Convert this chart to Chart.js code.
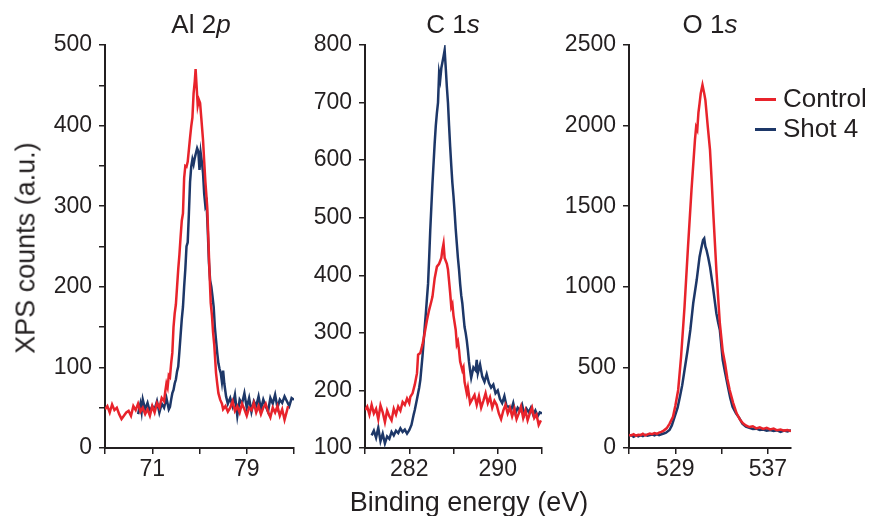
<!DOCTYPE html>
<html>
<head>
<meta charset="utf-8">
<script src="https://cdn.jsdelivr.net/npm/chart.js@4"></script>
<style>
  html, body { margin: 0; padding: 0; background: #ffffff; }
  #wrap { position: relative; width: 871px; height: 516px; overflow: hidden; background: #fff;
          font-family: "Liberation Sans", Arial, Helvetica, sans-serif; color: #231f20; }
  canvas { position: absolute; top: 0; }
  .txt { position: absolute; font-size: 26px; line-height: 26px; white-space: nowrap; }
  .axt { font-size: 27px; line-height: 27px; }
  .ctr { transform: translateX(-50%); }
  .leg-line { position: absolute; height: 3px; width: 21px; }
</style>
</head>
<body>
<div id="wrap">
  <canvas id="c1" width="293" height="516" style="left:5px"></canvas>
  <canvas id="c2" width="281" height="516" style="left:265px"></canvas>
  <canvas id="c3" width="266" height="516" style="left:529px"></canvas>

  <div class="txt ctr" style="left:201px; top:11px">Al 2<i>p</i></div>
  <div class="txt ctr" style="left:453px; top:11px">C 1<i>s</i></div>
  <div class="txt ctr" style="left:710px; top:11px">O 1<i>s</i></div>

  <div class="txt axt" style="left:26px; top:248px; transform: translate(-50%,-50%) rotate(-90deg);">XPS counts (a.u.)</div>
  <div class="txt axt ctr" style="left:469px; top:489px">Binding energy (eV)</div>

  <div class="leg-line" style="left:755px; top:98px; background:#e8232b"></div>
  <div class="txt" id="legC" style="left:783px; top:85px">Control</div>
  <div class="leg-line" style="left:755px; top:128px; background:#1d3768"></div>
  <div class="txt" id="legS" style="left:783px; top:115px">Shot 4</div>
</div>
<script>
// ---------------- data ----------------
const seriesNames = ["Control", "Shot 4"];
const panelTitles = ["Al 2p", "C 1s", "O 1s"];

// Al 2p
const alControlE = [67.0,67.2,67.4,67.6,67.8,68.0,68.2,68.4,68.6,68.8,69.0,69.2,69.4,69.6,69.8,70.0,70.2,70.4,70.6,70.8,71.0,71.2,71.4,71.6,71.8,72.0,72.1,72.2,72.3,72.4,72.5,72.6,72.7,72.8,72.9,73.0,73.1,73.2,73.3,73.4,73.5,73.6,73.7,73.8,73.9,74.0,74.1,74.2,74.3,74.4,74.5,74.6,74.67,74.75,74.85,74.95,75.05,75.15,75.3,75.4,75.5,75.65,75.75,75.85,75.95,76.05,76.15,76.25,76.4,76.5,76.6,76.75,76.9,77.0,77.2,77.4,77.6,77.8,78.0,78.2,78.4,78.6,78.8,79.0,79.2,79.4,79.6,79.8,80.0,80.2,80.4,80.6,80.8,81.0,81.2,81.4,81.6,81.8,82.0,82.2,82.4,82.5];
const alControl  = [48,52,44,54,47,50,42,36,40,44,46,40,52,47,55,45,50,42,48,40,52,44,56,50,62,58,70,80,75,90,88,105,118,150,167,178,200,222,240,262,282,291,335,350,349,355,370,385,399,410,440,455,470,450,425,432,428,410,382,355,330,300,260,217,180,165,143,128,93,80,68,60,55,48,52,45,50,58,46,52,44,55,48,40,50,47,56,44,52,42,50,55,45,38,50,44,52,40,48,35,46,52];
const alShotE = [69.8,70.0,70.1,70.2,70.4,70.6,70.8,71.0,71.2,71.4,71.6,71.8,72.0,72.2,72.4,72.5,72.6,72.7,72.8,72.9,73.0,73.1,73.2,73.3,73.4,73.5,73.6,73.7,73.8,73.9,74.0,74.1,74.2,74.3,74.4,74.5,74.6,74.7,74.8,74.9,75.0,75.1,75.2,75.3,75.4,75.5,75.6,75.7,75.8,75.9,76.0,76.1,76.2,76.3,76.4,76.5,76.6,76.7,76.8,76.9,77.0,77.1,77.25,77.4,77.6,77.8,78.0,78.2,78.4,78.6,78.8,79.0,79.2,79.4,79.6,79.8,80.0,80.2,80.4,80.6,80.8,81.0,81.2,81.4,81.6,81.8,82.0,82.2,82.4,82.6,82.8,83.0];
const alShot  = [42,55,45,60,48,56,45,52,48,58,44,55,50,62,48,51,60,68,72,80,85,95,101,120,140,160,175,200,222,250,255,290,330,349,358,352,360,366,372,368,345,366,355,341,315,300,304,270,230,208,200,188,175,150,134,118,105,98,93,82,96,80,64,55,62,52,66,40,60,55,68,50,62,45,58,52,64,48,60,52,45,62,55,66,50,60,56,64,58,52,62,60];
const alXTicks = [67,71,75,79,83];
const alXLabels = [71,79];
const alYTicks = [0,50,100,150,200,250,300,350,400,450,500];
const alYLabels = [0,100,200,300,400,500];

// C 1s
const cControlE = [278.0,278.2,278.4,278.6,278.8,279.0,279.2,279.4,279.6,279.8,280.0,280.2,280.4,280.6,280.8,281.0,281.2,281.4,281.6,281.8,282.0,282.1,282.3,282.5,282.7,282.8,283.0,283.2,283.4,283.6,283.8,284.0,284.1,284.3,284.5,284.7,284.9,285.0,285.1,285.2,285.4,285.5,285.6,285.7,285.8,285.9,286.0,286.2,286.3,286.4,286.5,286.6,286.8,286.9,287.0,287.2,287.3,287.5,287.7,287.9,288.1,288.3,288.5,288.7,288.9,289.1,289.3,289.5,289.7,289.9,290.1,290.3,290.5,290.7,290.9,291.1,291.3,291.5,291.7,291.9,292.1,292.3,292.5,292.7,292.9,293.1,293.3,293.5,293.7,293.9];
const cControl  = [166,172,158,175,160,168,150,174,162,145,165,155,148,168,158,172,165,180,175,186,178,189,195,210,230,262,265,280,300,322,340,355,363,395,415,420,430,445,455,430,420,410,390,369,345,350,330,305,280,285,270,250,235,240,215,195,205,178,185,192,175,190,170,182,195,178,188,170,182,175,160,150,165,175,160,170,155,168,150,160,172,152,165,148,160,170,152,158,140,148];
const cShotE = [278.6,278.8,279.0,279.2,279.4,279.6,279.8,280.0,280.2,280.4,280.6,280.8,281.0,281.2,281.4,281.6,281.8,282.0,282.2,282.4,282.5,282.7,282.9,283.0,283.2,283.4,283.5,283.6,283.7,283.8,283.9,284.0,284.1,284.2,284.3,284.4,284.5,284.6,284.7,284.8,284.9,285.0,285.1,285.2,285.3,285.4,285.5,285.6,285.7,285.8,285.9,286.0,286.1,286.2,286.3,286.4,286.5,286.6,286.7,286.8,286.9,287.0,287.1,287.2,287.3,287.4,287.5,287.6,287.8,288.0,288.1,288.2,288.4,288.6,288.8,289.0,289.2,289.4,289.6,289.8,290.0,290.2,290.4,290.6,290.8,291.0,291.2,291.4,291.6,291.8,292.0,292.2,292.4,292.6,292.8,293.0,293.2,293.4,293.6,293.8,294.0];
const cShot  = [122,130,118,135,112,125,108,120,116,128,122,130,126,134,128,132,125,131,140,158,166,185,205,218,260,310,334,360,385,430,479,520,560,595,630,660,682,700,751,740,760,770,780,791,760,727,700,660,623,590,560,537,510,480,455,430,410,385,365,351,330,310,300,287,270,250,235,222,240,235,253,230,245,224,215,228,213,205,210,195,200,185,178,190,172,172,165,178,160,170,165,175,158,168,162,170,158,165,155,162,160];
const cXTicks = [278,282,286,290,294];
const cXLabels = [282,290];
const cYTicks = [100,200,300,400,500,600,700,800];
const cYLabels = [100,200,300,400,500,600,700,800];

// O 1s
const oControlE = [525.0,525.2,525.4,525.6,525.8,526.0,526.2,526.4,526.6,526.8,527.0,527.2,527.4,527.6,527.8,528.0,528.25,528.5,528.8,529.0,529.25,529.5,529.8,530.1,530.4,530.7,530.8,530.9,531.0,531.1,531.2,531.35,531.5,531.6,531.8,532.0,532.15,532.3,532.55,532.85,533.1,533.3,533.5,533.7,534.0,534.3,534.6,534.85,535.1,535.4,535.7,536.0,536.3,536.6,536.9,537.2,537.5,537.8,538.1,538.4,538.7,539.0];
const oControl  = [81,78,85,76,82,80,88,78,84,90,86,92,88,95,100,108,122,150,194,260,360,566,877,1249,1600,1911,1990,1973,2080,2138,2200,2252,2200,2159,2000,1849,1650,1435,1104,774,600,525,430,360,280,215,175,153,140,130,135,122,128,118,125,115,120,110,115,108,112,105];
const oShotE = [525.0,525.2,525.4,525.6,525.8,526.0,526.2,526.4,526.6,526.8,527.0,527.2,527.4,527.6,527.8,528.0,528.2,528.5,528.7,528.95,529.2,529.4,529.6,529.8,530.05,530.3,530.55,530.85,531.1,531.25,531.4,531.5,531.6,531.7,531.85,532.0,532.25,532.55,532.7,532.85,533.1,533.3,533.55,533.75,533.95,534.25,534.55,534.8,535.1,535.4,535.7,536.0,536.3,536.6,536.9,537.2,537.5,537.8,538.1,538.4,538.7,539.0];
const oShot  = [75,80,70,78,72,80,74,82,76,80,84,78,86,80,85,90,95,112,140,194,250,318,390,484,600,732,898,1042,1187,1240,1290,1300,1250,1228,1180,1125,1001,836,780,732,546,470,380,310,256,215,184,150,132,125,118,120,112,115,108,112,105,110,100,108,102,110];
const oXTicks = [525,529,533,537];
const oXLabels = [529,537];
const oYTicks = [0,500,1000,1500,2000,2500];
const oYLabels = [0,500,1000,1500,2000,2500];

// ---------------- styling ----------------
const RED = "#e8232b";
const NAVY = "#1d3768";
const INK = "#231f20";
const FONT = { family: "'Liberation Sans', Arial, Helvetica, sans-serif", size: 23 };

function pts(xs, ys) { return xs.map((x, i) => ({ x: x, y: ys[i] })); }

function makePanel(id, cfg) {
  const yAxisWidth = 100;
  new Chart(document.getElementById(id), {
    type: "line",
    data: {
      datasets: [
        { label: seriesNames[0], data: pts(cfg.ce, cfg.cv), borderColor: RED, borderWidth: 2.5, pointRadius: 0, fill: false, tension: 0 },
        { label: seriesNames[1], data: pts(cfg.se, cfg.sv), borderColor: NAVY, borderWidth: 2.5, pointRadius: 0, fill: false, tension: 0 }
      ]
    },
    options: {
      responsive: false,
      animation: false,
      events: [],
      layout: { padding: { top: 45, right: 4, bottom: 0, left: 0 } },
      plugins: { legend: { display: false }, tooltip: { enabled: false }, title: { display: false } },
      scales: {
        x: {
          type: "linear",
          min: cfg.xmin, max: cfg.xmax,
          afterBuildTicks: (s) => { s.ticks = cfg.xticks.map(v => ({ value: v })); },
          afterFit: (s) => { s.height = 68; },
          ticks: {
            autoSkip: false, maxRotation: 0, padding: 2, color: INK, font: FONT,
            callback: (v) => cfg.xlabels.includes(v) ? String(v) : ""
          },
          grid: { display: true, drawOnChartArea: false, drawTicks: true, tickLength: 6, color: INK, lineWidth: 1.5 },
          border: { display: true, color: INK, width: 2 }
        },
        y: {
          type: "linear",
          min: cfg.ymin, max: cfg.ymax,
          afterBuildTicks: (s) => { s.ticks = cfg.yticks.map(v => ({ value: v })); },
          afterFit: (s) => { s.width = yAxisWidth; },
          ticks: {
            autoSkip: false, padding: 7, color: INK, font: FONT,
            callback: (v) => cfg.ylabels.includes(v) ? String(v) : ""
          },
          grid: { display: true, drawOnChartArea: false, drawTicks: true, tickLength: 6, color: INK, lineWidth: 1.5 },
          border: { display: true, color: INK, width: 2 }
        }
      }
    }
  });
}

makePanel("c1", { ce: alControlE, cv: alControl, se: alShotE, sv: alShot, xmin: 67, xmax: 83, ymin: 0, ymax: 500,
  xticks: alXTicks, xlabels: alXLabels, yticks: alYTicks, ylabels: alYLabels });
makePanel("c2", { ce: cControlE, cv: cControl, se: cShotE, sv: cShot, xmin: 278, xmax: 294, ymin: 100, ymax: 800,
  xticks: cXTicks, xlabels: cXLabels, yticks: cYTicks, ylabels: cYLabels });
makePanel("c3", { ce: oControlE, cv: oControl, se: oShotE, sv: oShot, xmin: 525, xmax: 539, ymin: 0, ymax: 2500,
  xticks: oXTicks, xlabels: oXLabels, yticks: oYTicks, ylabels: oYLabels });
</script>
</body>
</html>
